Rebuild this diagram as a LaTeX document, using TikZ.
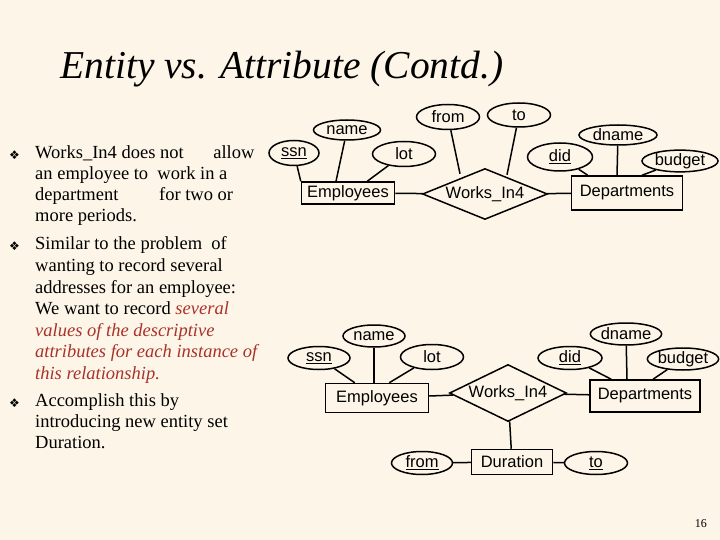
\documentclass[tikz,border=0pt]{standalone}
\usepackage{fontspec}
\setmainfont{Liberation Serif}
\setsansfont{Liberation Sans}
\newfontfamily\dejavu{DejaVu Sans}
\usetikzlibrary{shapes.geometric,calc}
\definecolor{bg}{HTML}{FDF6E8}
\definecolor{redtxt}{HTML}{A8322A}
\tikzset{
 attr/.style={draw,ellipse,line width=1.5pt,inner sep=0pt,font=\sffamily\fontsize{16.5}{16.5}\selectfont},
 ent/.style={draw,rectangle,line width=1.5pt,inner sep=0pt,font=\sffamily\fontsize{16.5}{16.5}\selectfont},
 rel/.style={draw,diamond,aspect=2.2,line width=1.5pt,inner sep=0pt,font=\sffamily\fontsize{16.5}{16.5}\selectfont},
 conn/.style={line width=1.5pt},
 txt/.style={anchor=base west,inner sep=0pt,font=\fontsize{18.5}{18.5}\selectfont},
 rtxt/.style={txt,text=redtxt,font=\itshape\fontsize{18.5}{18.5}\selectfont},
 bul/.style={anchor=base west,inner sep=0pt,font=\dejavu\fontsize{12}{12}\selectfont}
}
\begin{document}
\begin{tikzpicture}[x=1pt,y=-1pt]
\fill[bg] (0,0) rectangle (720,540);
\useasboundingbox (0,0) rectangle (720,540);
\node[anchor=base west,inner sep=0pt,font=\itshape\fontsize{39.5}{39.5}\selectfont] (title) at (60,79) {Entity vs. Attribute (Contd.)};
% bullets
\node[bul] (b1) at (9,160) {❖};
\node[bul] (b2) at (9,250) {❖};
\node[bul] (b3) at (9,407) {❖};
\node[txt] (l1) at (35,159) {Works\_In4 does not\hspace{1.6em}allow};
\node[txt] (l2) at (35,180) {an employee to\hspace{0.5em}work in a};
\node[txt] (l3) at (35,201) {department\hspace{2.2em}for two or};
\node[txt] (l4) at (35,222) {more periods.};
\node[txt] (l5) at (35,249) {Similar to the problem\hspace{0.5em}of};
\node[txt] (l6) at (35,271) {wanting to record several};
\node[txt] (l7) at (35,293) {addresses for an employee:};
\node[txt] (l8) at (35,314) {We want to record \textcolor{redtxt}{\itshape several}};
\node[rtxt] (l9) at (35,336) {values of the descriptive};
\node[rtxt] (l10) at (35,357) {attributes for each instance of};
\node[rtxt] (l11) at (35,379) {this relationship.};
\node[txt] (l12) at (35,406) {Accomplish this by};
\node[txt] (l13) at (35,427) {introducing new entity set};
\node[txt] (l14) at (35,448) {Duration.};
% top diagram
\node[attr,minimum width=50,minimum height=25] (ssn) at (294,153) {\underline{ssn}};
\node[attr,minimum width=67,minimum height=20] (name) at (347,130) {name};
\node[attr,minimum width=63,minimum height=25] (lot) at (404,154) {lot};
\node[ent,minimum width=93,minimum height=22] (emp) at (348,193) {Employees};
\node[rel,minimum width=125,minimum height=46] (wi) at (485,194) {Works\_In4};
\node[attr,minimum width=63,minimum height=25] (from) at (448,117) {from};
\node[attr,minimum width=63,minimum height=24] (to) at (519,115) {to};
\node[ent,minimum width=111,minimum height=34] (dep) at (627,193) {Departments};
\node[attr,minimum width=65,minimum height=28] (did) at (560,157) {\underline{did}};
\node[attr,minimum width=78,minimum height=20] (dname) at (618,135) {dname};
\node[attr,minimum width=76,minimum height=20] (budget) at (680,161) {budget};
\draw[conn] (ssn) -- (emp.north west);
\draw[conn] (name) -- ($(emp.north)+(-12,0)$);
\draw[conn] (lot) -- ($(emp.north east)+(-28,0)$);
\draw[conn] (emp) -- (wi);
\draw[conn] (from) -- ($(wi.north)+(-25,6)$);
\draw[conn] (to) -- ($(wi.north)+(22,7)$);
\draw[conn] (wi) -- (dep);
\draw[conn] (did) -- ($(dep.north west)+(17,0)$);
\draw[conn] (dname) -- ($(dep.north)+(-10,0)$);
\draw[conn] (budget) -- ($(dep.north)+(15,0)$);
% bottom diagram
\node[attr,minimum width=62,minimum height=23] (ssn2) at (319,358) {\underline{ssn}};
\node[attr,minimum width=62,minimum height=22] (name2) at (374,336) {name};
\node[attr,minimum width=63,minimum height=25] (lot2) at (432,357) {lot};
\node[ent,minimum width=103,minimum height=29] (emp2) at (377,398) {Employees};
\node[rel,minimum width=117,minimum height=57] (wi2) at (508,393) {Works\_In4};
\node[ent,minimum width=110,minimum height=32] (dep2) at (645,396) {Departments};
\node[attr,minimum width=64,minimum height=23] (did2) at (570,358) {\underline{did}};
\node[attr,minimum width=62,minimum height=22] (dname2) at (626,334) {dname};
\node[attr,minimum width=63,minimum height=22] (budget2) at (683,359) {budget};
\node[ent,minimum width=81,minimum height=25] (dur) at (512,462) {Duration};
\node[attr,minimum width=61,minimum height=23] (from2) at (422,463) {\underline{from}};
\node[attr,minimum width=63,minimum height=23] (to2) at (596,463) {\underline{to}};
\draw[conn] (ssn2) -- ($(emp2.north west)+(30,0)$);
\draw[conn] (name2) -- ($(emp2.north)+(-3,0)$);
\draw[conn] (lot2) -- ($(emp2.north east)+(-40,0)$);
\draw[conn] (emp2) -- (wi2);
\draw[conn] (wi2) -- (dep2);
\draw[conn] (did2) -- ($(dep2.north west)+(22,0)$);
\draw[conn] (dname2) -- ($(dep2.north)+(-18,0)$);
\draw[conn] (budget2) -- ($(dep2.north)+(8,0)$);
\draw[conn] (wi2) -- (dur);
\draw[conn] (from2) -- (dur);
\draw[conn] (dur) -- (to2);
\node[anchor=base east,inner sep=0pt,font=\fontsize{12}{12}\selectfont] (pg) at (707,527) {16};
\end{tikzpicture}
\end{document}
